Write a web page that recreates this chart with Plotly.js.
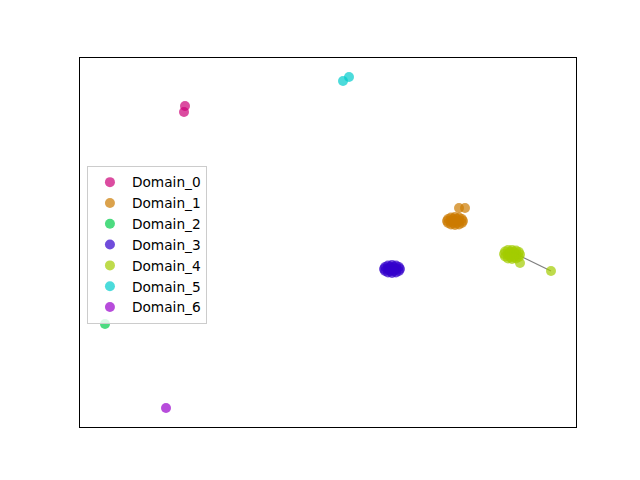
<!DOCTYPE html>
<html>
<head>
<meta charset="utf-8">
<script src="https://cdn.plot.ly/plotly-3.0.1.min.js"></script>
<style>html,body{margin:0;padding:0;background:#fff;}#chart{width:640px;height:480px;}</style>
</head>
<body>
<div id="chart"></div>
<script>
// Domain names and colours
const domainNames = ["Domain_0","Domain_1","Domain_2","Domain_3","Domain_4","Domain_5","Domain_6"];
const domainColors = ["#cc0077","#cc7a00","#00cc4a","#3300cc","#a3cc00","#00cccc","#9900cc"];

// Point coordinates (arbitrary embedding units)
const domain0X = [185, 184];
const domain0Y = [374, 368];
const domain1X = [459, 465, 463, 461.9, 459, 455, 451, 448.1, 447, 448.1, 451, 455, 459, 461.9, 455, 451, 459, 453, 457, 453, 457];
const domain1Y = [272, 272, 259, 261, 262.5, 263, 262.5, 261, 259, 257, 255.5, 255, 255.5, 257, 259, 259, 259, 261, 261, 257, 257];
const domain2X = [105];
const domain2Y = [156];
const domain3X = [400, 398.9, 396, 392, 388, 385.1, 384, 385.1, 388, 392, 396, 398.9, 392, 388, 396, 390, 394, 390, 394];
const domain3Y = [211, 213, 214.5, 215, 214.5, 213, 211, 209, 207.5, 207, 207.5, 209, 211, 211, 211, 213, 213, 209, 209];
const domain4X = [520, 518.9, 516, 512, 508, 505.1, 504, 505.1, 508, 512, 516, 518.9, 512, 508, 516, 510, 514, 510, 514, 520, 551];
const domain4Y = [225.5, 228, 229.5, 230, 230, 228.5, 226, 223.5, 221.5, 221, 221.5, 223, 225.5, 225.5, 225.5, 228, 228, 223, 223, 217, 209];
const domain5X = [343, 349];
const domain5Y = [399, 403];
const domain6X = [166];
const domain6Y = [72];
// Link between the Domain_4 cluster and its outlier
const linkX = [514, 551];
const linkY = [227, 209];

const xs = [domain0X, domain1X, domain2X, domain3X, domain4X, domain5X, domain6X];
const ys = [domain0Y, domain1Y, domain2Y, domain3Y, domain4Y, domain5Y, domain6Y];

const traces = [{
  x: linkX, y: linkY, mode: "lines", type: "scatter",
  line: {color: "#808080", width: 1.2}, showlegend: false, hoverinfo: "skip"
}];
domainNames.forEach((name, i) => {
  traces.push({
    x: xs[i], y: ys[i], name: name, type: "scatter", mode: "markers",
    marker: {color: domainColors[i], size: 10, opacity: 0.7, line: {width: 0}}
  });
});

const axisStyle = {
  showline: true, mirror: true, linecolor: "#000", linewidth: 1,
  showgrid: false, zeroline: false, showticklabels: false, ticks: ""
};

const layout = {
  width: 640, height: 480,
  margin: {l: 80, r: 64, t: 58, b: 53},
  paper_bgcolor: "#fff", plot_bgcolor: "#fff",
  xaxis: Object.assign({range: [80, 576]}, axisStyle),
  yaxis: Object.assign({range: [53, 422]}, axisStyle),
  showlegend: true,
  legend: {
    x: 0.014, y: 0.708, xanchor: "left", yanchor: "top",
    itemwidth: 34,
    bgcolor: "rgba(255,255,255,0.8)", bordercolor: "#cccccc", borderwidth: 1,
    font: {family: "DejaVu Sans", size: 13.7, color: "#000"}
  },
  font: {family: "DejaVu Sans"}
};

Plotly.newPlot("chart", traces, layout, {displayModeBar: false, staticPlot: true});
</script>
</body>
</html>
